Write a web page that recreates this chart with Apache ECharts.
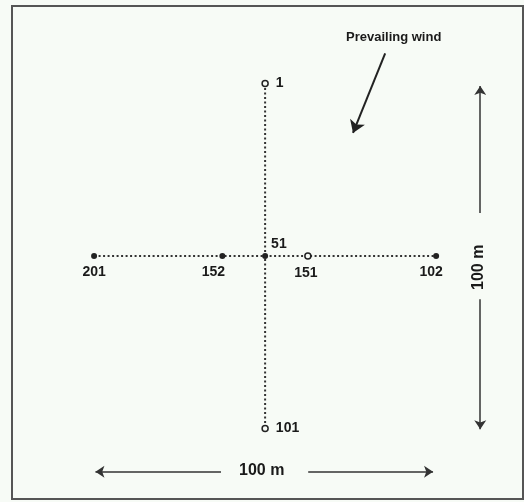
<!DOCTYPE html>
<html>
<head>
<meta charset="utf-8">
<script src="https://cdn.jsdelivr.net/npm/echarts@6/dist/echarts.min.js"></script>
<style>
  html, body { margin: 0; padding: 0; background: #f7fbf6; }
  #chart { width: 524px; height: 502px; }
</style>
</head>
<body>
<div id="chart"></div>
<script>
// sampling points, metres from the centre point 51
var pointNames = ['1', '51', '101', '201', '152', '151', '102'];
var pointX = [0, 0, 0, -50, -12.5, 12.5, 50];
var pointY = [50, 0, -50, 0, 0, 0, 0];
var openPoints = ['1', '101', '151'];

// dotted transects
var transects = [
    [[0, 50], [0, -50]],
    [[-50, 0], [50, 0]]
];

// wind direction arrow
var windArrow = [[35.1, 58.8], [25.7, 35.7]];

// 100 m dimension arrows
var dimArrows = [
    [[-12.9, -62.5], [-49.6, -62.5]],
    [[12.6, -62.5], [49.1, -62.5]],
    [[62.9, 12.5], [62.9, 49.3]],
    [[62.9, -12.5], [62.9, -50.2]]
];

var myChart = echarts.init(document.getElementById('chart'));

var pts = [];
for (var i = 0; i < pointNames.length; i++) {
    var open = openPoints.indexOf(pointNames[i]) >= 0;
    var lbl = {position: 'bottom', distance: 6};
    if (pointNames[i] == '1' || pointNames[i] == '101') lbl = {position: 'right', distance: 7};
    if (pointNames[i] == '51') lbl = {position: 'right', distance: 3, offset: [0, -12]};
    if (pointNames[i] == '152') lbl = {position: 'bottom', distance: 6, offset: [-9, 0]};
    if (pointNames[i] == '151') lbl = {position: 'bottom', distance: 6, offset: [-2, 0]};
    if (pointNames[i] == '102') lbl = {position: 'bottom', distance: 6, offset: [-5, 0]};
    pts.push({
        name: pointNames[i],
        value: [pointX[i], pointY[i]],
        symbolSize: 6,
        itemStyle: open
            ? {color: '#f7fbf6', borderColor: '#222', borderWidth: 1.5, opacity: 1}
            : {color: '#222', opacity: 1},
        label: lbl
    });
}

var lineSeries = transects.map(function (t) {
    return {
        type: 'line',
        data: t,
        symbol: 'none',
        silent: true,
        z: 1,
        lineStyle: {color: '#333', width: 2, type: [2, 2.5]}
    };
});

option = {
    backgroundColor: '#f7fbf6',
    animation: false,
    grid: {
        left: 12, right: 1, top: 6, bottom: 3,
        show: true,
        borderColor: '#555',
        borderWidth: 2,
        backgroundColor: 'transparent'
    },
    xAxis: {
        type: 'value', min: -74, max: 75.4,
        axisLine: {show: false}, axisTick: {show: false},
        axisLabel: {show: false}, splitLine: {show: false}
    },
    yAxis: {
        type: 'value', min: -70.4, max: 72.5,
        axisLine: {show: false}, axisTick: {show: false},
        axisLabel: {show: false}, splitLine: {show: false}
    },
    series: lineSeries.concat([
        {
            type: 'lines',
            coordinateSystem: 'cartesian2d',
            symbol: ['none', 'arrow'],
            symbolSize: [0, 12],
            silent: true,
            lineStyle: {color: '#222', width: 2, opacity: 1},
            data: [{coords: windArrow}]
        },
        {
            type: 'lines',
            coordinateSystem: 'cartesian2d',
            symbol: ['none', 'arrow'],
            symbolSize: [0, 9],
            silent: true,
            lineStyle: {color: '#333', width: 1.5, opacity: 1},
            data: dimArrows.map(function (a) { return {coords: a}; })
        },
        {
            type: 'scatter',
            symbol: 'circle',
            z: 3,
            label: {
                show: true,
                formatter: '{b}',
                color: '#1a1a1a',
                fontFamily: 'Liberation Sans',
                fontWeight: 'bold',
                fontSize: 14
            },
            data: pts
        }
    ]),
    graphic: [
        {
            type: 'text', left: 346, top: 31,
            style: {text: 'Prevailing wind', fill: '#1a1a1a', font: 'bold 13px "Liberation Sans"'}
        },
        {
            type: 'text', left: 239, top: 463,
            style: {text: '100 m', fill: '#1a1a1a', font: 'bold 16px "Liberation Sans"'}
        },
        {
            type: 'text', x: 471, y: 290, rotation: Math.PI / 2,
            style: {text: '100 m', fill: '#1a1a1a', font: 'bold 16px "Liberation Sans"', textAlign: 'left', textVerticalAlign: 'top'}
        }
    ]
};

myChart.setOption(option);
</script>
</body>
</html>
